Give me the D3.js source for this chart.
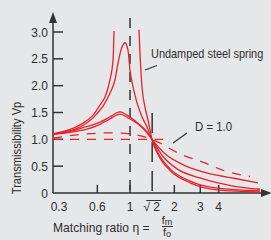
<!DOCTYPE html>
<meta charset="utf-8">
<style>
body { margin: 0; background-color: #e6e7e9; }
svg { display: block; }
text {
  font-family: "Liberation Sans", Arial, sans-serif;
  fill: #2e2e2e;
}
.tick-label { font-size: 12px; }
.axis-label { font-size: 12px; }
.curve { fill: none; stroke: #e5232b; stroke-width: 1.3; }
.dashed { stroke-dasharray: 9,8; }
</style>
<body>
<script src="https://cdn.jsdelivr.net/npm/d3@7"></script>
<script>
// tick values
var yTicks = [0, 0.5, 1.0, 1.5, 2.0, 2.5, 3.0];
var xTicks = [0.6, 1, 2, 3, 4];
var xTickLabels = ["0.3", "0.6", "1", "2", "3", "4"];
var xLabelValues = [0.3, 0.6, 1, 2, 3, 4];

// curves [eta, Vp]
var undampedLeft = [[0.3,1.10],[0.458,1.27],[0.561,1.45],[0.626,1.64],[0.676,1.79],[0.731,2.11],[0.767,2.48],[0.779,3.02]];
var undampedRight = [[1.151,3.04],[1.169,2.61],[1.206,1.98],[1.264,1.60],[1.325,1.36],[1.41,1.0],[1.6,0.65],[1.87,0.42],[2.56,0.19],[3.9,0.06],[7.64,0.02]];
var lowDamping = [[0.3,1.10],[0.458,1.23],[0.561,1.40],[0.656,1.62],[0.731,1.86],[0.791,2.11],[0.829,2.42],[0.882,2.72],[0.925,2.80],[0.969,2.66],[1.0,2.29],[1.048,1.98],[1.116,1.68],[1.206,1.42],[1.305,1.23],[1.41,1.0],[1.6,0.68],[1.87,0.45],[2.56,0.22],[3.9,0.09],[7.64,0.04]];
var midDampingA = [[0.3,1.10],[0.391,1.15],[0.495,1.23],[0.626,1.32],[0.731,1.42],[0.855,1.51],[0.954,1.45],[1.13,1.30],[1.305,1.14],[1.41,1.0],[1.675,0.68],[2.086,0.45],[2.988,0.28],[5.01,0.13],[7.64,0.07]];
var midDampingB = [[0.3,1.09],[0.391,1.13],[0.51,1.19],[0.626,1.28],[0.731,1.38],[0.855,1.47],[0.969,1.40],[1.151,1.27],[1.305,1.12],[1.41,1.0],[1.73,0.73],[2.36,0.51],[3.6,0.35],[5.17,0.27],[7.39,0.19]];
var dampingOne = [[0.3,1.02],[0.458,1.09],[0.731,1.12],[1.0,1.10],[1.41,1.0],[2.22,0.72],[3.23,0.56],[4.42,0.41],[6.53,0.31]];
var rigid = [[0.3,1.0],[1.68,1.0]];

var width = 271, height = 240;

// log scale on the matching ratio, linear on transmissibility
var x = d3.scaleLog().domain([0.3, 8.65]).range([53, 268]);
var y = d3.scaleLinear().domain([0, 3]).range([193, 32]);

var svg = d3.select("body").append("svg")
    .attr("width", width)
    .attr("height", height);

svg.append("rect")
    .attr("width", width)
    .attr("height", height)
    .attr("fill", "#e6e7e9");

var axisColor = "#333";

// condensed text: squeeze horizontally with a transform
function label(px, py, txt, size, sx, rot) {
  return svg.append("text")
      .attr("class", "axis-label")
      .style("font-size", size + "px")
      .attr("transform", "translate(" + px + "," + py + ")" +
            (rot ? " rotate(" + rot + ")" : "") + " scale(" + sx + ",1)")
      .text(txt);
}

// y axis with arrow
svg.append("line")
    .attr("x1", x(0.3)).attr("x2", x(0.3))
    .attr("y1", y(0)).attr("y2", 20)
    .attr("stroke", axisColor).attr("stroke-width", 1.5);
svg.append("path")
    .attr("d", "M" + x(0.3) + ",12 L" + (x(0.3) - 4) + ",23 L" + (x(0.3) + 4) + ",23 Z")
    .attr("fill", axisColor);

// x axis with arrow
svg.append("line")
    .attr("x1", x(0.3)).attr("x2", 264)
    .attr("y1", y(0)).attr("y2", y(0))
    .attr("stroke", axisColor).attr("stroke-width", 1.5);
svg.append("path")
    .attr("d", "M272," + y(0) + " L261," + (y(0) - 4) + " L261," + (y(0) + 4) + " Z")
    .attr("fill", axisColor);

// y ticks and labels
svg.selectAll(".ytick")
    .data(yTicks.filter(function(d) { return d > 0; }))
    .enter().append("line")
    .attr("class", "ytick")
    .attr("x1", x(0.3)).attr("x2", x(0.3) + 10)
    .attr("y1", function(d) { return y(d); })
    .attr("y2", function(d) { return y(d); })
    .attr("stroke", axisColor).attr("stroke-width", 1.5);

svg.selectAll(".ylabel")
    .data(yTicks)
    .enter().append("text")
    .attr("class", "tick-label")
    .attr("x", 48)
    .attr("y", function(d) { return y(d) + 4.5; })
    .attr("text-anchor", "end")
    .text(function(d) { return d === 0 ? "0" : d3.format(".1f")(d); });

// x ticks and labels
svg.selectAll(".xtick")
    .data(xTicks)
    .enter().append("line")
    .attr("class", "xtick")
    .attr("x1", function(d) { return x(d); })
    .attr("x2", function(d) { return x(d); })
    .attr("y1", y(0) - 8).attr("y2", y(0))
    .attr("stroke", axisColor).attr("stroke-width", 1.5);

svg.selectAll(".xlabel")
    .data(xLabelValues)
    .enter().append("text")
    .attr("class", "tick-label")
    .attr("x", function(d, i) { return i === 0 ? x(d) + 6 : x(d); })
    .attr("y", 211)
    .attr("text-anchor", "middle")
    .text(function(d, i) { return xTickLabels[i]; });

// sqrt(2) label
var s2 = x(Math.SQRT2);
svg.append("text")
    .attr("class", "tick-label")
    .attr("x", s2 - 2)
    .attr("y", 211)
    .attr("text-anchor", "end")
    .text("\u221A");
svg.append("text")
    .attr("class", "tick-label")
    .attr("x", s2 + 1)
    .attr("y", 211)
    .text("2");
svg.append("line")
    .attr("x1", s2 - 6).attr("x2", s2 + 9)
    .attr("y1", 200.5).attr("y2", 200.5)
    .attr("stroke", axisColor).attr("stroke-width", 1);

// vertical dashed guides at eta = 1 and sqrt(2)
svg.append("line")
    .attr("x1", x(1)).attr("x2", x(1))
    .attr("y1", 18).attr("y2", y(0))
    .attr("stroke", axisColor).attr("stroke-width", 1.5)
    .attr("stroke-dasharray", "10,8");
svg.append("line")
    .attr("x1", s2).attr("x2", s2)
    .attr("y1", 113).attr("y2", y(0))
    .attr("stroke", axisColor).attr("stroke-width", 1.5)
    .attr("stroke-dasharray", "20,9");

// curves
var line = d3.line()
    .x(function(d) { return x(d[0]); })
    .y(function(d) { return y(d[1]); })
    .curve(d3.curveMonotoneX);

var solid = [undampedLeft, undampedRight, lowDamping, midDampingA, midDampingB];
svg.selectAll(".solid")
    .data(solid)
    .enter().append("path")
    .attr("class", "curve")
    .attr("d", line);

svg.selectAll(".dash")
    .data([dampingOne, rigid])
    .enter().append("path")
    .attr("class", "curve dashed")
    .attr("d", line);

// annotations
label(151, 58, "Undamped steel spring", 13, 0.84);
svg.append("line")
    .attr("x1", 145).attr("y1", 70).attr("x2", 157).attr("y2", 65.5)
    .attr("stroke", axisColor).attr("stroke-width", 1.2);

label(195, 131, "D = 1.0", 12, 0.95);
svg.append("line")
    .attr("x1", 173).attr("y1", 143).attr("x2", 187).attr("y2", 133)
    .attr("stroke", axisColor).attr("stroke-width", 1.2);

// axis titles
label(21, 148, "Transmissibility Vp", 12, 0.93, -90)
    .attr("text-anchor", "middle");

label(53, 232, "Matching ratio \u03B7 =", 12.5, 0.97);

// f_m / f_o fraction
var fx = 167;
var frac = svg.append("g").attr("class", "axis-label");
frac.append("text").attr("x", fx).attr("y", 224).attr("text-anchor", "middle")
    .style("font-size", "11px")
    .html('f<tspan dy="1" style="font-size:9px">m</tspan>');
frac.append("line")
    .attr("x1", fx - 5).attr("x2", fx + 6)
    .attr("y1", 226.5).attr("y2", 226.5)
    .attr("stroke", axisColor).attr("stroke-width", 1);
frac.append("text").attr("x", fx).attr("y", 236).attr("text-anchor", "middle")
    .style("font-size", "11px")
    .html('f<tspan dy="1" style="font-size:9px">o</tspan>');
</script>
</body>
